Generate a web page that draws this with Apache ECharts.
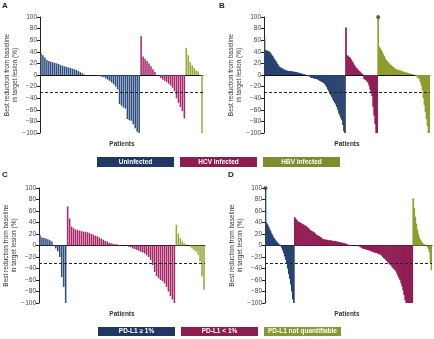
<!DOCTYPE html>
<html><head><meta charset="utf-8">
<script src="https://cdn.jsdelivr.net/npm/echarts@6/dist/echarts.min.js"></script>
<style>html,body{margin:0;padding:0;background:#fff}#c{width:434px;height:339px}</style>
</head><body><div id="c"></div>
<script>
// ---- Data (best reduction from baseline, %) ----
const A_uninfected = [37, 34, 30, 26, 24, 23, 22, 21, 20, 19, 17, 16, 15, 14, 13, 12, 11, 10, 9, 7, 5, 3, 1, 0, 0, 0, 0, 0, 0, -1, -2, -3, -4, -6, -8, -10, -13, -16, -20, -25, -50, -53, -56, -58, -76, -78, -79, -85, -92, -98, -100];
const A_hcv = [67, 32, 28, 24, 20, 15, 10, 5, 0, 0, -5, -8, -10, -12, -15, -18, -22, -28, -40, -48, -55, -62, -75];
const A_hbv = [47, 34, 22, 17, 12, 8, 6, 0, -100];

const B_uninfected = [63, 43, 42, 42, 41, 40, 38, 35, 33, 30, 27, 25, 22, 19, 16, 14, 13, 12, 11, 10, 9, 8, 8, 7, 7, 7, 7, 6, 6, 6, 5, 5, 5, 4, 4, 3, 3, 2, 2, 1, 1, 0, 0, -1, -2, -3, -4, -5, -5, -6, -6, -7, -7, -8, -9, -10, -11, -12, -13, -14, -16, -18, -21, -25, -28, -32, -35, -38, -42, -45, -48, -51, -55, -60, -66, -70, -74, -78, -86, -97, -100];
const B_hcv = [82, 34, 33, 31, 30, 27, 24, 21, 18, 15, 13, 11, 9, 7, 6, 4, 2, 1, -7, -8, -9, -11, -13, -18, -25, -30, -36, -55, -70, -85, -100, -100];
const B_hbv = [100, 49, 46, 43, 40, 36, 33, 29, 26, 24, 22, 20, 18, 17, 15, 14, 12, 11, 10, 9, 9, 8, 8, 7, 6, 6, 5, 5, 4, 4, 3, 3, 2, 2, 1, 1, 0, 0, -2, -4, -5, -7, -12, -18, -26, -40, -52, -64, -76, -88, -100, -100];

const C_pdl1High = [18, 14, 13, 12, 11, 9, 7, 1, -5, -10, -20, -55, -72, -100];
const C_pdl1Low = [68, 47, 33, 30, 28, 27, 26, 25, 24, 24, 23, 22, 20, 19, 17, 16, 14, 12, 10, 8, 7, 5, 4, 3, 2, 2, 1, 1, 0, 0, -1, -2, -3, -5, -6, -8, -9, -11, -12, -14, -17, -20, -25, -34, -46, -53, -57, -60, -62, -66, -72, -80, -88, -94, -100];
const C_pdl1NQ = [36, 21, 13, 7, 4, 0, 0, -2, -5, -8, -11, -16, -28, -54, -77];

const D_pdl1High = [100, 40, 37, 33, 29, 25, 21, 18, 14, 12, 9, 7, 5, 3, 1, 0, -4, -8, -13, -19, -25, -32, -40, -50, -58, -68, -80, -94, -100];
const D_pdl1Low = [49, 46, 44, 42, 41, 40, 39, 38, 37, 36,
  35, 34, 32, 31, 29, 27, 26, 25, 24, 23,
  21, 19, 18, 17, 16, 15, 14, 12, 11, 11,
  10, 10, 10, 9, 9, 9, 9, 8, 8, 8,
  8, 7, 7, 6, 6, 5, 5, 5, 4, 4,
  3, 3, 2, 1, 1, 1, 0, 0, 0, 0,
  0, 0, 0, -1, -2, -3, -4, -5, -6, -6,
  -7, -7, -8, -8, -9, -10, -10, -11, -12, -12,
  -13, -13, -14, -15, -15, -16, -18, -20, -22, -23,
  -25, -27, -29, -31, -33, -34, -37, -39, -41, -43,
  -45, -49, -53, -57, -60, -65, -71, -78, -86, -95,
  -100, -100, -100, -100, -100, -100, -100];
const D_pdl1NQ = [82, 65, 50, 38, 28, 20, 14, 10, 7, 5, 3, 2, 1, 0, -3, -6, -12, -30, -43];

const panelLetters = ['A', 'B', 'C', 'D'];
const legendTop = ['Uninfected', 'HCV infected', 'HBV infected'];
const legendBottom = ['PD-L1 \u2265 1%', 'PD-L1 < 1%', 'PD-L1 not quantifiable'];
const yTitle = 'Best reduction from baseline\nin target lesion (%)';
const xTitle = 'Patients';
const threshold = -30;
const yMin = -100, yMax = 100, yStep = 20;

// ---- Layout / style ----
const barColorsStriped = ['#2f4f82', '#a8286a', '#9aa836'];
const barColorsSolid = ['#27446f', '#921e56', '#8f9d2e'];
const legendColorsTop = ['#1f3763', '#8c1d4e', '#7f8d2c'];
const legendColorsBottom = ['#1f3763', '#8c1d4e', '#87982f'];
const FONT = '"Liberation Sans", Arial, Helvetica, sans-serif';

const panels = [
  {groups: [A_uninfected, A_hcv, A_hbv], grid: {left: 40, top: 17, width: 163, height: 116}, gap: '22%', solid: false},
  {groups: [B_uninfected, B_hcv, B_hbv], grid: {left: 264, top: 17, width: 166, height: 116}, solid: true},
  {groups: [C_pdl1High, C_pdl1Low, C_pdl1NQ], grid: {left: 39, top: 188, width: 166, height: 115}, gap: '22%', solid: false},
  {groups: [D_pdl1High, D_pdl1Low, D_pdl1NQ], grid: {left: 265, top: 188, width: 167, height: 115}, solid: true}
];

const option = {
  animation: false,
  backgroundColor: '#fff',
  textStyle: {fontFamily: FONT},
  grid: [], xAxis: [], yAxis: [], series: [], graphic: []
};

panels.forEach((p, pi) => {
  const n = p.groups.reduce((s, g) => s + g.length, 0);
  const cats = Array.from({length: n}, (_, i) => String(i + 1));
  option.grid.push(Object.assign({containLabel: false}, p.grid));
  option.xAxis.push({
    type: 'category', gridIndex: pi, data: cats,
    axisLine: {onZero: true, lineStyle: {color: '#111', width: 1}},
    axisTick: {show: false}, axisLabel: {show: false}, splitLine: {show: false}
  });
  option.yAxis.push({
    type: 'value', gridIndex: pi, min: yMin, max: yMax, interval: yStep,
    name: yTitle, nameLocation: 'middle', nameGap: 20, nameRotate: 90,
    nameTextStyle: {fontSize: 6.5, color: '#333', lineHeight: 7.5, fontFamily: FONT},
    axisLine: {show: true, lineStyle: {color: '#222', width: 1}},
    axisTick: {show: true, length: 3, lineStyle: {color: '#222'}},
    axisLabel: {fontSize: 6.5, color: '#444', margin: 3, fontFamily: FONT,
      formatter: v => (v < 0 ? '\u2212' + Math.abs(v) : String(v))},
    splitLine: {show: false}
  });
  let offset = 0;
  const all = [];
  const colors = p.solid ? barColorsSolid : barColorsStriped;
  p.groups.forEach((g, gi) => {
    const d = new Array(n).fill('-');
    g.forEach((v, k) => { d[offset + k] = v; all[offset + k] = v; });
    offset += g.length;
    const s = {
      type: 'bar', xAxisIndex: pi, yAxisIndex: pi, data: d,
      barGap: '-100%',
      itemStyle: {color: colors[gi]}, silent: true
    };
    if (p.solid) s.barWidth = 1.7; else s.barCategoryGap = p.gap;
    if (gi === 0) {
      s.markLine = {
        silent: true, symbol: 'none', label: {show: false},
        lineStyle: {type: [3, 2], color: '#222', width: 1},
        data: [{yAxis: threshold}]
      };
    }
    option.series.push(s);
  });
  // dots marking values at/above the axis maximum
  option.series.push({
    type: 'scatter', xAxisIndex: pi, yAxisIndex: pi, silent: true,
    symbolSize: 4, itemStyle: {color: '#3a3a3a'}, z: 5,
    data: all.map(v => (v >= yMax ? yMax : '-'))
  });
});

// panel letters
const letterPos = [[2, 2], [219, 2], [2, 171], [228, 171]];
panelLetters.forEach((L, i) => {
  option.graphic.push({type: 'text', left: letterPos[i][0], top: letterPos[i][1],
    style: {text: L, fontSize: 8, fontWeight: 'bold', fill: '#222', fontFamily: FONT}});
});
// "Patients" labels
[[122, 144], [347, 144], [122, 314], [347, 314]].forEach(([x, y]) => {
  option.graphic.push({type: 'text', x: x, y: y,
    style: {text: xTitle, fontSize: 6.5, fontWeight: 'bold', fill: '#333', align: 'center', verticalAlign: 'middle', fontFamily: FONT}});
});
// legends
function addLegend(labels, colors, xs, y, h) {
  labels.forEach((t, i) => {
    option.graphic.push({type: 'rect', shape: {x: xs[i], y: y, width: 77, height: h}, style: {fill: colors[i]}});
    option.graphic.push({type: 'text', x: xs[i] + 38.5, y: y + h / 2,
      style: {text: t, fontSize: 6.5, fontWeight: 'bold', fill: '#fff', align: 'center', verticalAlign: 'middle', fontFamily: FONT}});
  });
}
addLegend(legendTop, legendColorsTop, [97, 180, 263], 157, 10);
addLegend(legendBottom, legendColorsBottom, [98, 181, 264], 327, 9);

const chart = echarts.init(document.getElementById('c'), null, {renderer: 'canvas'});
chart.setOption(option);
</script>
</body></html>
